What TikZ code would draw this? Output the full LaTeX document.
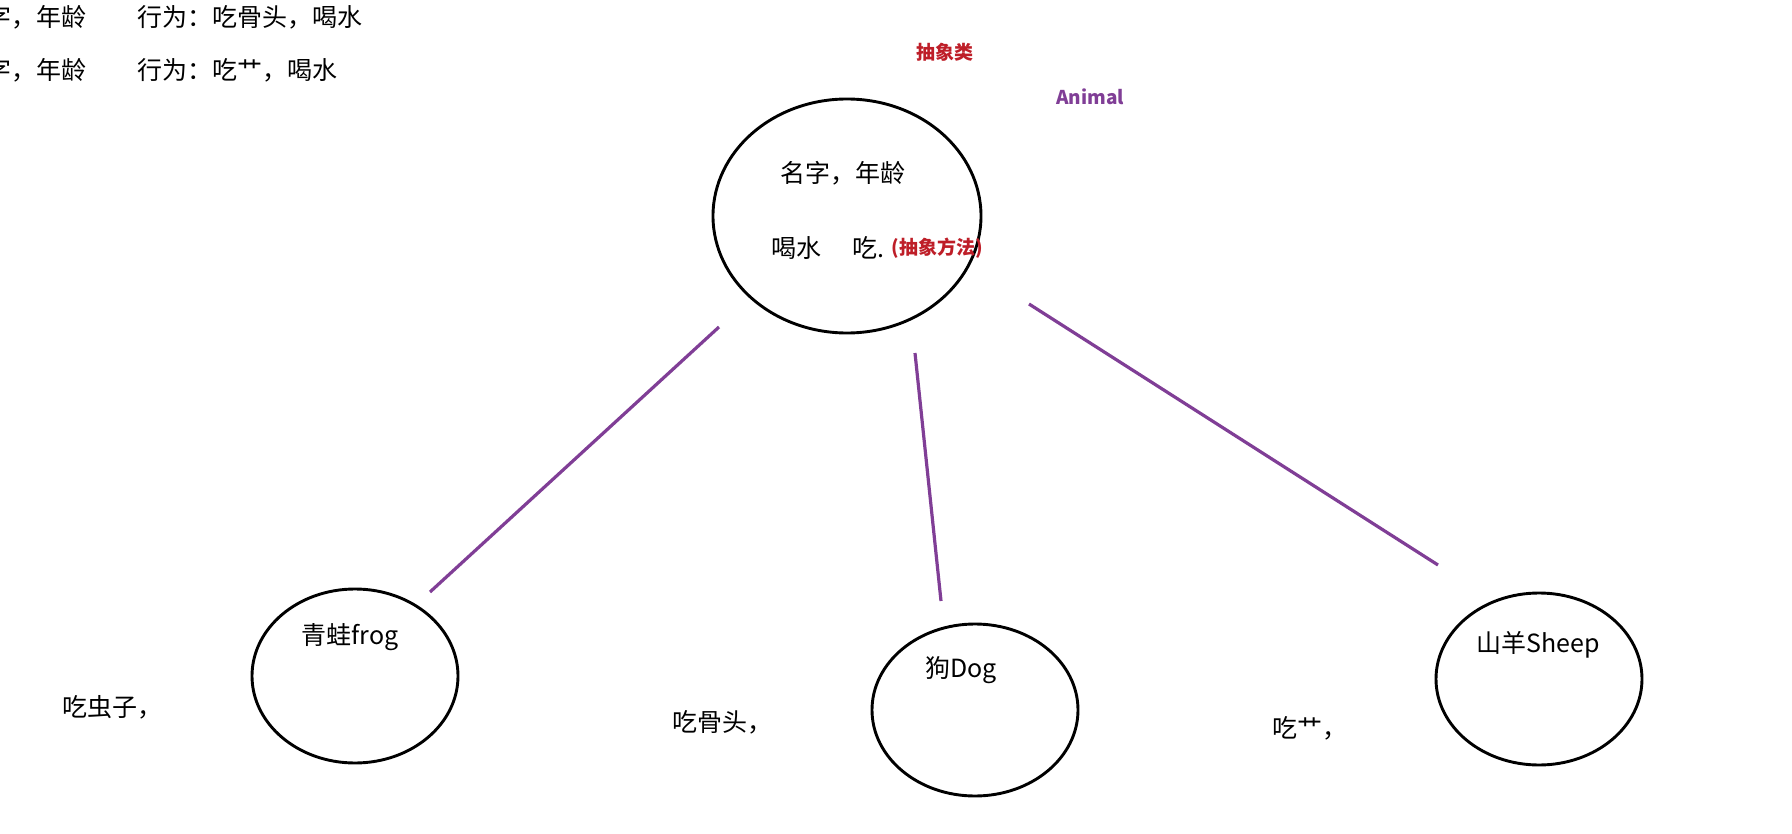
\documentclass[tikz,border=0pt]{standalone}
\usepackage{fontspec}
\newfontfamily\cjk{Noto Sans CJK SC}
\usetikzlibrary{shapes.geometric}
\definecolor{redtxt}{RGB}{190,30,40}
\definecolor{purp}{RGB}{128,62,150}
\tikzset{
  txt/.style={font=\cjk\fontsize{25}{30}\selectfont, inner sep=0pt, text=black},
  redlbl/.style={font=\cjk\bfseries\fontsize{19}{23}\selectfont, inner sep=0pt, text=redtxt},
  purlbl/.style={font=\cjk\bfseries\fontsize{19}{23}\selectfont, inner sep=0pt, text=purp},
  oval/.style={ellipse, draw=black, line width=2.9pt, inner sep=0pt},
  link/.style={draw=purp, line width=3.2pt}
}
\begin{document}
\begin{tikzpicture}[x=1pt,y=-1pt]
\useasboundingbox (0,0) rectangle (1792,834);
\clip (0,0) rectangle (1792,834);
\fill[white] (0,0) rectangle (1792,834);
% top-left notes
\node[txt, anchor=west] (n1a) at (-39,17) {名字，年龄};
\node[txt, anchor=west] (n1b) at (137,17) {行为：吃骨头，喝水};
\node[txt, anchor=west] (n2a) at (-39,70) {名字，年龄};
\node[txt, anchor=west] (n2b) at (137,70) {行为：吃艹，喝水};
% abstract class
\node[redlbl] (abs) at (945,52) {抽象类};
\node[purlbl] (anm) at (1090,97) {Animal};
\node[oval, minimum width=268pt, minimum height=234pt] (animal) at (847,216) {};
\node[txt] (attr) at (843,173) {名字，年龄};
\node[txt] (drink) at (796,248) {喝水};
\node[txt, anchor=west] (eat) at (852,248) {吃.};
\node[redlbl] (absm) at (937,248) {(抽象方法)};
% subclasses
\node[oval, minimum width=206pt, minimum height=174pt] (frog) at (355,676) {};
\node[oval, minimum width=206pt, minimum height=172pt] (dog) at (975,710) {};
\node[oval, minimum width=206pt, minimum height=172pt] (sheep) at (1539,679) {};
\node[txt] (frogt) at (350,637) {青蛙frog};
\node[txt] (dogt) at (961,670) {狗Dog};
\node[txt] (sheept) at (1538,645) {山羊Sheep};
\node[txt, anchor=west] (frogeat) at (62,707) {吃虫子，};
\node[txt, anchor=west] (dogeat) at (672,722) {吃骨头，};
\node[txt, anchor=west] (sheepeat) at (1272,728) {吃艹，};
% connectors
\coordinate (a1) at (719,327); \coordinate (f1) at (430,592);
\coordinate (a2) at (915,353); \coordinate (d1) at (941,601);
\coordinate (a3) at (1029,304); \coordinate (s1) at (1438,565);
\draw[link] (a1) -- (f1);
\draw[link] (a2) -- (d1);
\draw[link] (a3) -- (s1);
\end{tikzpicture}
\end{document}
